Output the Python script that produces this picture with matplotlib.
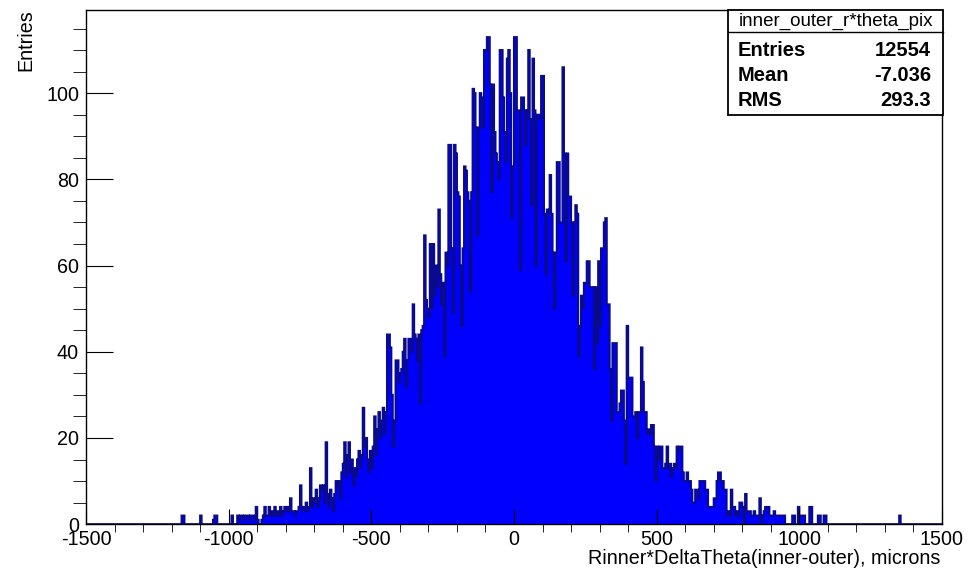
import numpy as np
import matplotlib.pyplot as plt
from matplotlib.patches import Rectangle
from matplotlib.lines import Line2D

plt.rcParams['font.family'] = ['Liberation Sans', 'DejaVu Sans']
plt.rcParams['axes.unicode_minus'] = False

# histogram binning (microns)
x_min, x_max, bin_width = -1500, 1500, 5
first_edge = -1200   # left edge of the first value in counts

# counts per 5 micron bin, one row = 100 microns, starting at -1200
counts = [
    0, 0, 0, 0, 0, 0, 0, 2, 2, 0, 0, 0, 0, 0, 0, 0, 0, 0, 0, 0,
    2, 0, 0, 0, 0, 0, 0, 0, 0, 1, 2, 2, 0, 0, 0, 0, 0, 0, 0, 0,
    0, 0, 2, 0, 0, 0, 2, 1, 2, 2, 1, 2, 2, 2, 1, 2, 2, 2, 1, 4,
    1, 0, 0, 1, 2, 4, 2, 2, 4, 2, 3, 2, 4, 2, 3, 2, 4, 2, 3, 4,
    3, 4, 3, 6, 3, 3, 2, 3, 3, 4, 9, 4, 3, 4, 5, 3, 4, 13, 4, 6,
    5, 8, 4, 6, 9, 8, 9, 5, 19, 7, 4, 8, 6, 3, 7, 10, 9, 10, 6, 12,
    14, 19, 11, 16, 19, 12, 15, 9, 13, 11, 15, 17, 13, 16, 27, 18, 20, 15, 12, 17,
    13, 18, 25, 16, 22, 26, 20, 24, 27, 21, 26, 44, 44, 41, 30, 18, 24, 38, 38, 33,
    35, 36, 40, 43, 32, 38, 43, 43, 40, 51, 44, 43, 38, 44, 28, 45, 46, 67, 52, 50,
    48, 65, 50, 65, 53, 60, 55, 73, 58, 51, 56, 39, 63, 60, 88, 88, 64, 49, 88, 86,
    77, 76, 60, 46, 64, 83, 82, 77, 75, 54, 77, 101, 100, 92, 67, 92, 100, 99, 92, 110,
    110, 113, 113, 102, 77, 102, 91, 86, 84, 80, 110, 110, 99, 91, 84, 108, 110, 100, 71, 83,
    113, 113, 96, 96, 59, 99, 99, 96, 88, 96, 110, 94, 74, 108, 96, 60, 95, 95, 94, 104,
    104, 72, 58, 73, 72, 81, 72, 63, 50, 63, 84, 84, 70, 70, 106, 86, 61, 86, 76, 76,
    70, 53, 70, 74, 72, 39, 46, 53, 50, 56, 56, 61, 61, 55, 55, 55, 36, 55, 42, 61,
    46, 64, 64, 70, 71, 51, 51, 36, 24, 42, 42, 42, 26, 26, 28, 31, 31, 24, 14, 46,
    34, 34, 34, 25, 25, 26, 20, 26, 26, 41, 33, 26, 26, 21, 22, 21, 23, 23, 18, 10,
    18, 15, 18, 18, 13, 13, 14, 18, 13, 14, 11, 13, 14, 13, 18, 17, 18, 18, 12, 10,
    10, 12, 10, 10, 8, 5, 5, 8, 8, 6, 10, 10, 10, 10, 8, 8, 4, 4, 4, 4,
    6, 6, 10, 12, 12, 10, 10, 8, 8, 2, 3, 2, 8, 4, 4, 2, 3, 2, 5, 5,
    4, 0, 7, 3, 3, 3, 2, 2, 3, 2, 2, 2, 6, 0, 2, 3, 4, 4, 4, 2,
    2, 2, 3, 2, 2, 2, 2, 2, 2, 2, 0, 0, 0, 0, 0, 2, 2, 0, 0, 4,
    2, 2, 2, 2, 0, 0, 0, 4, 4, 0, 0, 0, 0, 2, 2, 0, 0, 2, 2, 0,
]
# lone bins far out in the right tail
far_bins = [1350]
far_counts = [2]

hist_name = 'inner_outer_r*theta_pix'
stat_labels = ['Entries', 'Mean', 'RMS']
stat_values = ['12554', '-7.036', '293.3']

edges = np.arange(x_min, x_max + bin_width, bin_width)
h = np.zeros(len(edges) - 1)
i0 = (first_edge - x_min) // bin_width
h[i0:i0 + len(counts)] = counts
for b, c in zip(far_bins, far_counts):
    h[(b - x_min) // bin_width] = c

W, H = 970, 568
fig = plt.figure(figsize=(W / 100, H / 100), dpi=100)
ax = fig.add_axes([86 / W, 1 - 524.2 / H, (942 - 86) / W, (524.2 - 10) / H])

ax.stairs(h, edges, fill=True, color='#0000ff', lw=0)
ax.stairs(h, edges, color='#0a0a8c', lw=1.5)

ax.set_xlim(x_min, x_max)
ax.set_ylim(0, 119.3)
ax.set_xticks(range(-1500, 1501, 500))
ax.set_xticks(range(-1500, 1501, 100), minor=True)
ax.set_yticks(range(0, 101, 20))
ax.set_yticks(range(0, 120, 5), minor=True)
ax.tick_params(direction='in', top=False, right=False, labelsize=14.2, width=0.8)
ax.tick_params(axis='x', which='major', length=10.8, pad=4)
ax.tick_params(axis='x', which='minor', length=5.4)
ax.tick_params(axis='y', which='major', length=19.4, pad=5)
ax.tick_params(axis='y', which='minor', length=9.4)
for s in ax.spines.values():
    s.set_linewidth(1.0)

fig.text(940 / W, 1 - 558 / H, 'Rinner*DeltaTheta(inner-outer), microns',
         ha='right', va='center', fontsize=14.2)
fig.text(26 / W, 1 - 9 / H, 'Entries', rotation=90, ha='center', va='top', fontsize=14.2)

# stats box
bx0, by0, bx1, by1 = 728, 10, 943, 115
fig.add_artist(Rectangle((bx0 / W, 1 - by1 / H), (bx1 - bx0) / W, (by1 - by0) / H,
                         transform=fig.transFigure, facecolor='white',
                         edgecolor='black', lw=1.3, zorder=5))
fig.add_artist(Line2D([bx0 / W, bx1 / W], [1 - 31.7 / H, 1 - 31.7 / H],
                      transform=fig.transFigure, color='black', lw=1.0, zorder=6))
fig.text((bx0 + bx1) / 2 / W, 1 - 21.5 / H, hist_name, ha='center', va='center',
         fontsize=13.5, zorder=7)
for k, (lab, val) in enumerate(zip(stat_labels, stat_values)):
    yy = 1 - (50 + 25.5 * k) / H
    fig.text(738 / W, yy, lab, ha='left', va='center', fontsize=14.5,
             fontweight='bold', zorder=7)
    fig.text(931 / W, yy, val, ha='right', va='center', fontsize=14.5,
             fontweight='bold', zorder=7)

fig.savefig('out.png', dpi=100)
